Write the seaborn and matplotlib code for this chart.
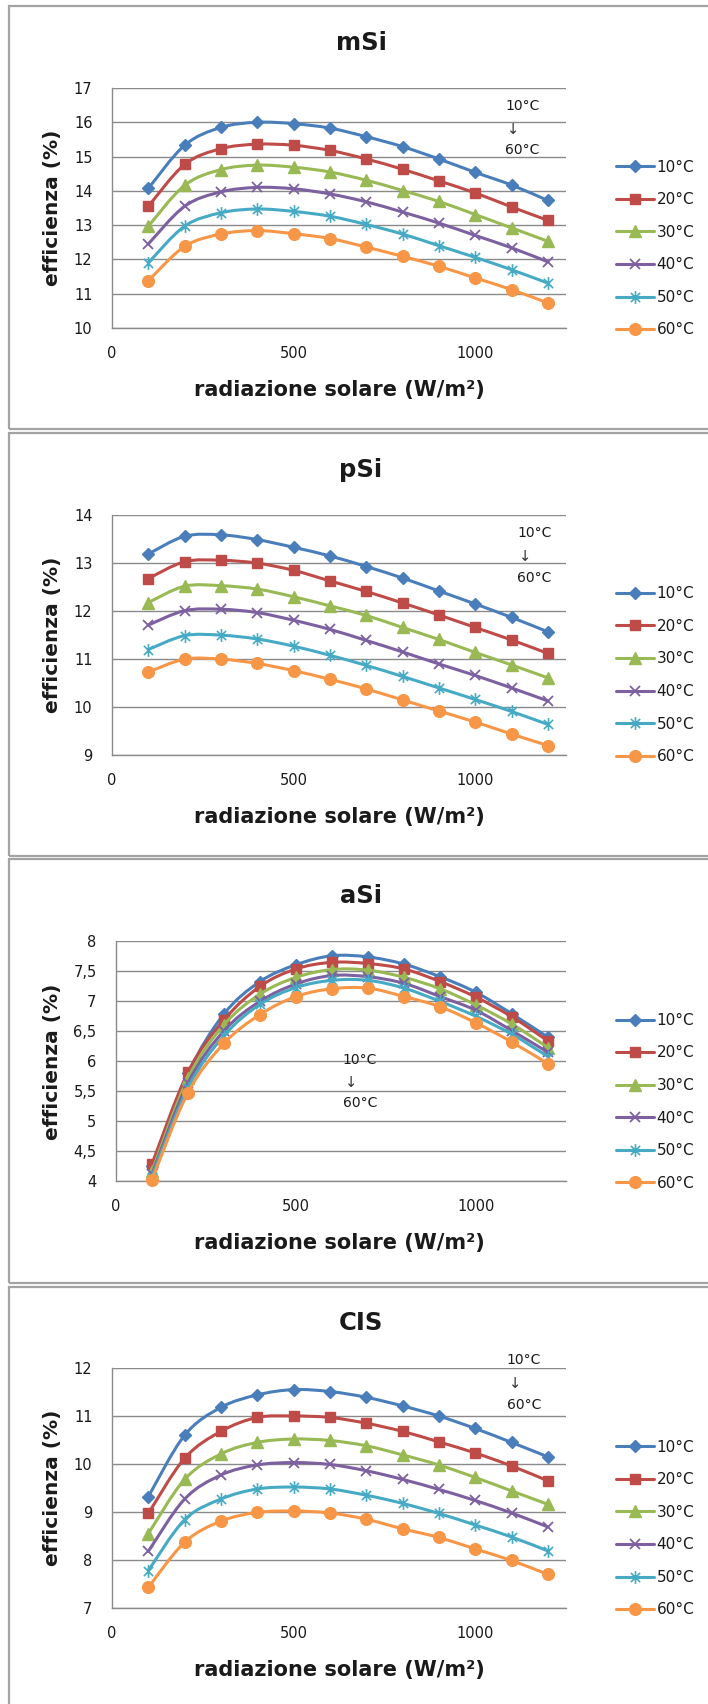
import numpy as np
import pandas as pd
import matplotlib
matplotlib.use("Agg")
import matplotlib.pyplot as plt
from matplotlib.path import Path
from matplotlib.patches import PathPatch, Rectangle
from matplotlib.lines import Line2D
import seaborn as sns

# ---------------------------------------------------------------- data
irradiance = [100, 200, 300, 400, 500, 600, 700, 800, 900, 1000, 1100, 1200]
temp_labels = ["10°C", "20°C", "30°C", "40°C", "50°C", "60°C"]

msi_10 = [14.07, 15.33, 15.85, 16.00, 15.96, 15.83, 15.58, 15.29, 14.93, 14.54, 14.17, 13.72]
msi_20 = [13.55, 14.77, 15.23, 15.36, 15.33, 15.18, 14.93, 14.63, 14.29, 13.94, 13.53, 13.14]
msi_30 = [12.97, 14.16, 14.62, 14.75, 14.69, 14.55, 14.31, 14.01, 13.69, 13.31, 12.92, 12.53]
msi_40 = [12.45, 13.55, 13.97, 14.10, 14.06, 13.91, 13.68, 13.38, 13.06, 12.70, 12.34, 11.93]
msi_50 = [11.90, 12.97, 13.36, 13.47, 13.40, 13.26, 13.02, 12.74, 12.40, 12.06, 11.70, 11.31]
msi_60 = [11.38, 12.38, 12.74, 12.84, 12.75, 12.61, 12.36, 12.09, 11.80, 11.46, 11.12, 10.73]

psi_10 = [13.18, 13.55, 13.58, 13.48, 13.32, 13.14, 12.92, 12.68, 12.41, 12.14, 11.86, 11.56]
psi_20 = [12.67, 13.02, 13.05, 12.99, 12.84, 12.62, 12.40, 12.16, 11.91, 11.65, 11.39, 11.11]
psi_30 = [12.17, 12.51, 12.52, 12.45, 12.29, 12.10, 11.90, 11.65, 11.40, 11.13, 10.87, 10.60]
psi_40 = [11.70, 12.00, 12.03, 11.96, 11.80, 11.61, 11.38, 11.14, 10.89, 10.65, 10.39, 10.12]
psi_50 = [11.19, 11.48, 11.49, 11.41, 11.26, 11.07, 10.86, 10.63, 10.39, 10.15, 9.90, 9.63]
psi_60 = [10.72, 10.99, 10.99, 10.90, 10.75, 10.57, 10.37, 10.14, 9.91, 9.68, 9.43, 9.19]

asi_10 = [4.25, 5.80, 6.79, 7.33, 7.61, 7.76, 7.74, 7.62, 7.41, 7.15, 6.79, 6.40]
asi_20 = [4.29, 5.82, 6.69, 7.25, 7.54, 7.65, 7.63, 7.54, 7.33, 7.07, 6.74, 6.34]
asi_30 = [4.17, 5.72, 6.61, 7.12, 7.40, 7.53, 7.52, 7.40, 7.21, 6.94, 6.62, 6.23]
asi_40 = [4.12, 5.64, 6.51, 7.00, 7.29, 7.43, 7.41, 7.30, 7.08, 6.85, 6.51, 6.15]
asi_50 = [4.08, 5.56, 6.43, 6.95, 7.23, 7.35, 7.35, 7.22, 7.00, 6.75, 6.45, 6.08]
asi_60 = [4.03, 5.48, 6.30, 6.78, 7.08, 7.21, 7.22, 7.08, 6.91, 6.64, 6.32, 5.96]

cis_10 = [9.32, 10.60, 11.18, 11.44, 11.55, 11.51, 11.39, 11.21, 11.00, 10.74, 10.45, 10.15]
cis_20 = [8.97, 10.12, 10.68, 10.97, 11.00, 10.97, 10.85, 10.68, 10.46, 10.23, 9.96, 9.65]
cis_30 = [8.55, 9.68, 10.21, 10.45, 10.52, 10.49, 10.38, 10.19, 9.98, 9.72, 9.44, 9.16]
cis_40 = [8.18, 9.27, 9.77, 9.98, 10.03, 9.99, 9.86, 9.68, 9.47, 9.24, 8.98, 8.69]
cis_50 = [7.78, 8.84, 9.27, 9.48, 9.52, 9.48, 9.35, 9.18, 8.97, 8.73, 8.48, 8.19]
cis_60 = [7.43, 8.37, 8.81, 8.99, 9.02, 8.98, 8.85, 8.65, 8.47, 8.23, 7.99, 7.70]

panel_titles = ["mSi", "pSi", "aSi", "CIS"]
panel_series = [
    [msi_10, msi_20, msi_30, msi_40, msi_50, msi_60],
    [psi_10, psi_20, psi_30, psi_40, psi_50, psi_60],
    [asi_10, asi_20, asi_30, asi_40, asi_50, asi_60],
    [cis_10, cis_20, cis_30, cis_40, cis_50, cis_60],
]
panel_yticks = [
    [10, 11, 12, 13, 14, 15, 16, 17],
    [9, 10, 11, 12, 13, 14],
    [4, 4.5, 5, 5.5, 6, 6.5, 7, 7.5, 8],
    [7, 8, 9, 10, 11, 12],
]
x_ticks = [0, 500, 1000]
x_label = "radiazione solare (W/m²)"
y_label = "efficienza (%)"
note_top, note_bottom = "10°C", "60°C"

# ---------------------------------------------------------------- style
sns.set_style("white")
plt.rcParams["font.family"] = ["DejaVu Sans"]
plt.rcParams["text.color"] = "#1a1a1a"

colors = ["#4A7EBB", "#BE4B48", "#98B954", "#7D60A0", "#46AAC5", "#F79646"]

# asterisk-like marker: cross with a vertical bar
star_marker = Path(
    [(0, -1), (0, 1), (-0.72, -0.72), (0.72, 0.72), (-0.72, 0.72), (0.72, -0.72)],
    [Path.MOVETO, Path.LINETO, Path.MOVETO, Path.LINETO, Path.MOVETO, Path.LINETO],
)
markers = ["D", "s", "^", "x", star_marker, "o"]
msizes = [5.8, 7.2, 8.2, 7.2, 9.2, 8.4]
mews = [1.0, 1.0, 1.0, 1.3, 1.2, 1.0]

# note position per panel (x in data units, three y levels in data units)
note_pos = [
    (1130, (16.48, 15.80, 15.19)),
    (1163, (13.62, 13.12, 12.68)),
    (677, (6.03, 5.65, 5.30)),
    (1134, (12.17, 11.67, 11.23)),
]

W, H = 708, 1704
fig = plt.figure(figsize=(W / 100, H / 100), dpi=100)
fig.patch.set_facecolor("white")


def fx(px):
    return px / W


def fy(py):
    return 1 - py / H


def smooth_path(xs, ys):
    """Cubic Bezier path through the points (Catmull-Rom style smoothing)."""
    pts = np.column_stack([xs, ys]).astype(float)
    n = len(pts)
    verts = [pts[0]]
    codes = [Path.MOVETO]
    for i in range(n - 1):
        p0 = pts[i - 1] if i > 0 else pts[i]
        p1 = pts[i]
        p2 = pts[i + 1]
        p3 = pts[i + 2] if i + 2 < n else pts[i + 1]
        verts += [p1 + (p2 - p0) / 6.0, p2 - (p3 - p1) / 6.0, p2]
        codes += [Path.CURVE4] * 3
    return Path(verts, codes)


def fmt_tick(v):
    return f"{v:g}".replace(".", ",")


card_edges = [(6, 429), (433, 856), (859, 1283), (1287, 1712)]
grid_col = "#8a8a8a"

for k in range(4):
    off = k * 426.67
    top, bottom = 88 + off, 328 + off
    left = 116 if k == 2 else 112
    right = 566

    # card frame around each chart
    ct, cb = card_edges[k]
    fig.add_artist(Rectangle((fx(9), fy(cb)), fx(720), (cb - ct) / H,
                             transform=fig.transFigure, fill=False,
                             edgecolor="#a3a3a3", lw=1.6, clip_on=False))

    ax = fig.add_axes([fx(left), fy(bottom), fx(right - left), (bottom - top) / H])
    ax.set_facecolor("none")

    handles = []
    for i, (vals, lab) in enumerate(zip(panel_series[k], temp_labels)):
        c = colors[i]
        z = 3 + i * 0.1
        ax.add_patch(PathPatch(smooth_path(irradiance, vals), facecolor="none",
                               edgecolor=c, lw=2.2, zorder=z, capstyle="round"))
        df = pd.DataFrame({"irr": irradiance, "eff": vals})
        sns.lineplot(data=df, x="irr", y="eff", ax=ax, color=c, marker=markers[i],
                     markersize=msizes[i], markeredgecolor=c, markerfacecolor=c,
                     markeredgewidth=mews[i], linewidth=0, legend=False,
                     zorder=z + 0.05, clip_on=False)
        handles.append(Line2D([], [], color=c, lw=2.2, marker=markers[i],
                              markersize=msizes[i], markeredgecolor=c,
                              markerfacecolor=c, markeredgewidth=mews[i], label=lab))

    yt = panel_yticks[k]
    ax.set_xlim(0, 1250)
    ax.set_ylim(yt[0], yt[-1])
    ax.set_xticks(x_ticks)
    ax.set_xticklabels([str(t) for t in x_ticks])
    ax.set_yticks(yt)
    ax.set_yticklabels([fmt_tick(t) for t in yt])
    ax.set_xlabel("")
    ax.set_ylabel("")
    ax.tick_params(axis="both", length=0, labelsize=10.5, colors="#1a1a1a")
    ax.tick_params(axis="y", pad=14)
    ax.tick_params(axis="x", pad=13)
    ax.yaxis.grid(True, color=grid_col, lw=1.0, zorder=0)
    ax.xaxis.grid(False)
    ax.set_axisbelow(True)
    for s in ["top", "right"]:
        ax.spines[s].set_visible(False)
    for s in ["left", "bottom"]:
        ax.spines[s].set_color(grid_col)
        ax.spines[s].set_linewidth(1.0)

    # title and axis labels
    fig.text(fx(361), fy(43 + off), panel_titles[k], ha="center", va="center",
             fontsize=17.5, fontweight="bold")
    fig.text(fx(53), fy(208 + off), y_label, ha="center", va="center",
             rotation=90, fontsize=14.5, fontweight="bold")
    fig.text(fx(339), fy(390 + off), x_label, ha="center", va="center",
             fontsize=15, fontweight="bold")

    # temperature ordering note
    nx, (y1, y2, y3) = note_pos[k]
    ax.text(nx, y1, note_top, ha="center", va="center", fontsize=10, clip_on=False, zorder=6)
    ax.text(nx - 25, y2, "↓", ha="center", va="center", fontsize=10.5, clip_on=False,
            zorder=6, color="#333333")
    ax.text(nx, y3, note_bottom, ha="center", va="center", fontsize=10, clip_on=False, zorder=6)

    fig.legend(handles=handles, loc="center left",
               bbox_to_anchor=(fx(616), fy(248.5 + off)), bbox_transform=fig.transFigure,
               frameon=False, borderpad=0, borderaxespad=0, handlelength=2.5,
               handletextpad=0.15, labelspacing=1.15, fontsize=11)

fig.savefig("out.png", dpi=100, facecolor="white")
